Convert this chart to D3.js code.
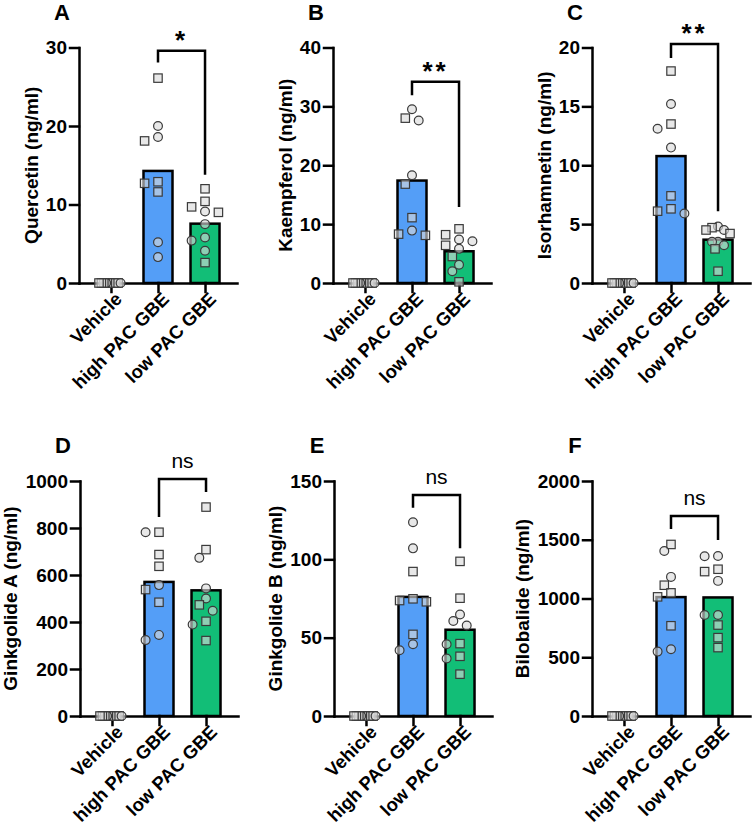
<!DOCTYPE html>
<html>
<head>
<meta charset="utf-8">
<script src="https://cdn.jsdelivr.net/npm/d3@7"></script>
<style>
  body { margin: 0; background: #fff; }
  text { font-family: "Liberation Sans", Arial, sans-serif; }
</style>
</head>
<body>
<div id="chart"></div>
<script>
// six dot-on-bar panels, GraphPad style

const width = 752;
const height = 830;

const categories = ["Vehicle", "high PAC GBE", "low PAC GBE"];

// vehicle animals: all below LOQ
const vehicleValues = [0, 0, 0, 0, 0, 0, 0, 0, 0, 0];
const vehicleShape  = ["s", "s", "s", "c", "s", "s", "s", "s", "c", "s"];

// A  Quercetin
const quercetinTicks = [0, 10, 20, 30];
const quercetinHigh = [26.1, 20.0, 18.6, 18.1, 12.9, 12.7, 11.6, 5.2, 3.3];
const quercetinHighShape = ["s", "c", "c", "s", "s", "s", "s", "c", "c"];
const quercetinLow = [12.0, 10.4, 9.7, 9.1, 9.0, 7.5, 5.8, 5.4, 4.1, 2.6];
const quercetinLowShape = ["s", "s", "s", "c", "s", "c", "c", "c", "c", "s"];
const quercetinBracket = [29.6, 28.1, 13.8]; // top, left leg end, right leg end

// B  Kaempferol
const kaempferolTicks = [0, 10, 20, 30, 40];
const kaempferolHigh = [29.5, 28.0, 27.6, 18.3, 16.8, 11.1, 8.9, 8.3, 8.1];
const kaempferolHighShape = ["c", "s", "c", "c", "s", "s", "c", "s", "s"];
const kaempferolLow = [9.2, 8.2, 7.4, 7.1, 6.4, 5.8, 4.5, 3.1, 2.0, 0.2];
const kaempferolLowShape = ["s", "s", "c", "c", "s", "c", "s", "c", "c", "s"];
const kaempferolBracket = [34.2, 31.9, 12.9];

// C  Isorhamnetin
const isorhamnetinTicks = [0, 5, 10, 15, 20];
const isorhamnetinHigh = [18.0, 15.2, 13.5, 13.1, 11.5, 7.4, 6.3, 6.1, 5.9];
const isorhamnetinHighShape = ["s", "c", "s", "c", "c", "s", "s", "s", "c"];
const isorhamnetinLow = [4.8, 4.7, 4.5, 4.5, 4.2, 3.5, 3.5, 3.2, 2.9, 1.0];
const isorhamnetinLowShape = ["c", "s", "c", "s", "s", "c", "c", "c", "s", "s"];
const isorhamnetinBracket = [20.3, 19.1, 6.1];

// D  Ginkgolide A
const ginkgolideATicks = [0, 200, 400, 600, 800, 1000];
const ginkgolideAHigh = [782, 782, 687, 637, 557, 538, 484, 345, 323];
const ginkgolideAHighShape = ["s", "c", "s", "s", "c", "s", "s", "c", "c"];
const ginkgolideALow = [889, 708, 673, 543, 500, 473, 448, 403, 389, 321];
const ginkgolideALowShape = ["s", "s", "c", "c", "c", "s", "c", "s", "c", "s"];
const ginkgolideABracket = [1008, 847, 953];

// E  Ginkgolide B
const ginkgolideBTicks = [0, 50, 100, 150];
const ginkgolideBHigh = [123.7, 107.0, 92.2, 74.8, 73.7, 72.9, 52.1, 45.8, 42.0];
const ginkgolideBHighShape = ["c", "c", "s", "s", "s", "s", "s", "c", "c"];
const ginkgolideBLow = [98.7, 75.2, 64.8, 60.6, 57.8, 46.2, 45.8, 38.1, 36.7, 26.7];
const ginkgolideBLowShape = ["s", "s", "c", "c", "c", "s", "c", "s", "c", "s"];
const ginkgolideBBracket = [141, 133, 107];

// F  Bilobalide
const bilobalideTicks = [0, 500, 1000, 1500, 2000];
const bilobalideHigh = [1460, 1404, 1184, 1113, 1048, 1014, 768, 568, 548];
const bilobalideHighShape = ["s", "c", "c", "s", "s", "s", "s", "c", "c"];
const bilobalideLow = [1362, 1359, 1249, 1229, 1150, 859, 859, 774, 667, 582];
const bilobalideLowShape = ["c", "c", "s", "s", "c", "c", "c", "s", "s", "s"];
const bilobalideBracket = [1702, 1591, 1498];

const panels = [
  { letter: "A", title: "Quercetin (ng/ml)", ticks: quercetinTicks, high: quercetinHigh, highShape: quercetinHighShape, low: quercetinLow, lowShape: quercetinLowShape, bracket: quercetinBracket, sig: "*" },
  { letter: "B", title: "Kaempferol (ng/ml)", ticks: kaempferolTicks, high: kaempferolHigh, highShape: kaempferolHighShape, low: kaempferolLow, lowShape: kaempferolLowShape, bracket: kaempferolBracket, sig: "**" },
  { letter: "C", title: "Isorhamnetin (ng/ml)", ticks: isorhamnetinTicks, high: isorhamnetinHigh, highShape: isorhamnetinHighShape, low: isorhamnetinLow, lowShape: isorhamnetinLowShape, bracket: isorhamnetinBracket, sig: "**" },
  { letter: "D", title: "Ginkgolide A (ng/ml)", ticks: ginkgolideATicks, high: ginkgolideAHigh, highShape: ginkgolideAHighShape, low: ginkgolideALow, lowShape: ginkgolideALowShape, bracket: ginkgolideABracket, sig: "ns" },
  { letter: "E", title: "Ginkgolide B (ng/ml)", ticks: ginkgolideBTicks, high: ginkgolideBHigh, highShape: ginkgolideBHighShape, low: ginkgolideBLow, lowShape: ginkgolideBLowShape, bracket: ginkgolideBBracket, sig: "ns" },
  { letter: "F", title: "Bilobalide (ng/ml)", ticks: bilobalideTicks, high: bilobalideHigh, highShape: bilobalideHighShape, low: bilobalideLow, lowShape: bilobalideLowShape, bracket: bilobalideBracket, sig: "ns" }
];

// panel placement (y axis x-position, plot top / bottom)
const layout = [
  { ox: 79,  top: 47.5, bottom: 283 },
  { ox: 333, top: 47.5, bottom: 283 },
  { ox: 592, top: 47.5, bottom: 283 },
  { ox: 80,  top: 481,  bottom: 716 },
  { ox: 334, top: 481,  bottom: 716 },
  { ox: 592, top: 481,  bottom: 716 }
];

const barColor = { "high PAC GBE": "#549ef7", "low PAC GBE": "#12be77" };
const barWidth = 29;
const lw = 2.5;

const svg = d3.select("#chart")
  .append("svg")
  .attr("width", width)
  .attr("height", height);

// simple swarm: try 0, -step, +step, ... until no overlap, then squeeze wide rows
function swarm(values, y, step = 6.7, minDist = 9, maxHalf = 12) {
  const placed = [];
  values.forEach(v => {
    const py = y(v);
    for (let k = 0; k < 40; k++) {
      const off = (k === 0 ? 0 : (k % 2 ? -1 : 1) * Math.ceil(k / 2)) * step;
      const hit = placed.some(p => Math.hypot(p.dx - off, p.py - py) < minDist);
      if (!hit) { placed.push({ dx: off, py }); break; }
    }
  });
  const m = d3.max(placed, p => Math.abs(p.dx));
  const s = m > 14 ? maxHalf / m : 1;
  return placed.map(p => p.dx * s);
}

panels.forEach((p, i) => {
  const L = layout[i];
  const g = svg.append("g");

  const y = d3.scaleLinear()
    .domain([0, d3.max(p.ticks)])
    .range([L.bottom, L.top]);

  const x = d3.scalePoint()
    .domain(categories)
    .range([L.ox, L.ox + 158])
    .padding(0.68);

  const groups = [
    { cat: categories[0], values: vehicleValues, shape: vehicleShape },
    { cat: categories[1], values: p.high, shape: p.highShape },
    { cat: categories[2], values: p.low, shape: p.lowShape }
  ];

  // Bars (mean)
  groups.slice(1).forEach(gr => {
    const m = d3.mean(gr.values);
    g.append("rect")
      .attr("x", x(gr.cat) - barWidth / 2)
      .attr("y", y(m))
      .attr("width", barWidth)
      .attr("height", y(0) - y(m))
      .attr("fill", barColor[gr.cat])
      .attr("stroke", "#000")
      .attr("stroke-width", lw);
  });

  // Axes
  const yAxis = g.append("g")
    .attr("transform", `translate(${L.ox},0)`)
    .call(d3.axisLeft(y).tickValues(p.ticks).tickFormat(d3.format("d"))
      .tickSize(9).tickSizeOuter(0).tickPadding(3));

  const xAxis = g.append("g")
    .attr("transform", `translate(0,${L.bottom})`)
    .call(d3.axisBottom(x).tickSize(9).tickSizeOuter(0));
  xAxis.selectAll("text").remove();

  g.selectAll(".domain, .tick line")
    .attr("stroke", "#000")
    .attr("stroke-width", lw)
    .attr("stroke-linecap", "square");

  yAxis.selectAll("text")
    .attr("fill", "#000")
    .style("font-size", "19px")
    .style("font-weight", "bold");

  // x labels, rotated
  g.selectAll(".xlab")
    .data(categories)
    .join("text")
    .attr("transform", d => `translate(${x(d) + 3},${L.bottom + 8}) rotate(-45)`)
    .attr("text-anchor", "end")
    .attr("dy", "0.7em")
    .style("font-size", "18.5px")
    .style("font-weight", "bold")
    .text(d => d);

  // y title, placed left of the tick labels
  const bb = yAxis.node().getBBox();
  const cx = L.ox + bb.x - 15;
  g.append("text")
    .attr("transform", `translate(${cx},${(L.top + L.bottom) / 2}) rotate(-90)`)
    .attr("text-anchor", "middle")
    .attr("dy", "0.35em")
    .style("font-size", "19px")
    .style("font-weight", "bold")
    .text(p.title);

  // panel letter
  g.append("text")
    .attr("x", L.ox - 17)
    .attr("y", L.top - 28)
    .attr("text-anchor", "middle")
    .style("font-size", "22px")
    .style("font-weight", "bold")
    .text(p.letter);

  // points
  groups.forEach(gr => {
    const offs = swarm(gr.values, y);
    gr.values.forEach((v, j) => {
      const px = x(gr.cat) + offs[j];
      const py = y(v);
      const el = gr.shape[j] === "c"
        ? g.append("circle").attr("cx", px).attr("cy", py).attr("r", 4.4)
        : g.append("rect").attr("x", px - 4.2).attr("y", py - 4.2).attr("width", 8.4).attr("height", 8.4);
      el.attr("fill", "rgba(218,218,218,0.62)")
        .attr("stroke", "#3a3a3a")
        .attr("stroke-width", 1.2);
    });
  });

  // significance bracket
  const [top, leftEnd, rightEnd] = p.bracket;
  const xh = x(categories[1]), xl = x(categories[2]);
  g.append("path")
    .attr("d", `M${xh},${y(leftEnd)}V${y(top)}H${xl}V${y(rightEnd)}`)
    .attr("fill", "none")
    .attr("stroke", "#000")
    .attr("stroke-width", lw);

  const isNs = p.sig === "ns";
  g.append("text")
    .attr("x", (xh + xl) / 2)
    .attr("y", y(top) - (isNs ? 11 : 2))
    .attr("text-anchor", "middle")
    .style("font-size", isNs ? "21px" : "26px")
    .style("font-weight", isNs ? "normal" : "bold")
    .style("letter-spacing", isNs ? "0px" : "3px")
    .text(p.sig);
});
</script>
</body>
</html>
